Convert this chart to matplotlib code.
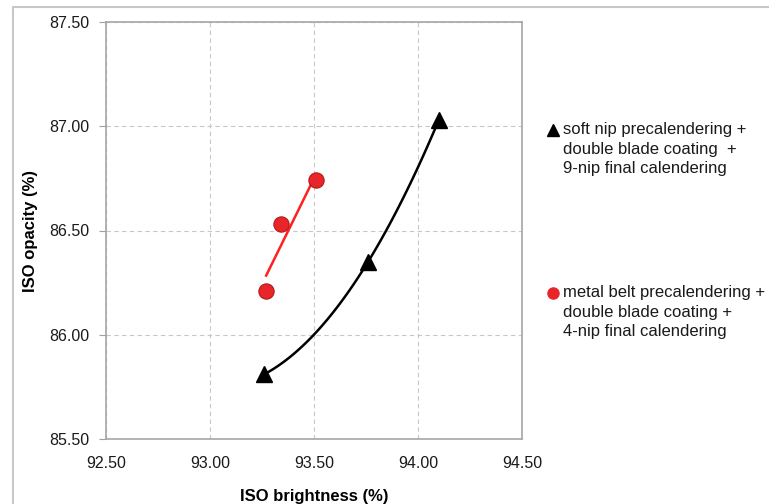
import numpy as np
import matplotlib.pyplot as plt
from matplotlib.patches import Rectangle

plt.rcParams['font.family'] = ['Liberation Sans', 'DejaVu Sans']

# Data
soft_x = [93.26, 93.76, 94.10]
soft_y = [85.81, 86.35, 87.03]
metal_x = [93.27, 93.34, 93.51]
metal_y = [86.21, 86.53, 86.74]

soft_label = "soft nip precalendering +\ndouble blade coating  +\n9-nip final calendering"
metal_label = "metal belt precalendering +\ndouble blade coating +\n4-nip final calendering"

xticks = [92.5, 93.0, 93.5, 94.0, 94.5]
yticks = [85.5, 86.0, 86.5, 87.0, 87.5]

fig = plt.figure(figsize=(7.69, 5.04), dpi=100)
W, H = 769, 504

# outer frame
fig.patches.append(Rectangle((13 / W, -0.05), 1.1, 1 - 7 / H + 0.05,
                             transform=fig.transFigure, fill=False,
                             edgecolor='#c8c8c8', lw=1.5))

ax = fig.add_axes([106 / W, 65 / H, 416 / W, 417 / H])

# trendlines
p2 = np.polyfit(soft_x, soft_y, 2)
xs = np.linspace(min(soft_x), max(soft_x), 100)
ax.plot(xs, np.polyval(p2, xs), color='black', lw=1.8, zorder=2)

p1 = np.polyfit(metal_x, metal_y, 1)
xm = np.linspace(min(metal_x), max(metal_x), 10)
ax.plot(xm, np.polyval(p1, xm), color='#ff2020', lw=1.8, zorder=2)

ax.plot(soft_x, soft_y, linestyle='none', marker='^', ms=11, color='black', zorder=3)
ax.plot(metal_x, metal_y, linestyle='none', marker='o', ms=11,
        markerfacecolor='#e8262a', markeredgecolor='#b01a1a', mew=0.8, zorder=3)

ax.set_xlim(92.5, 94.5)
ax.set_ylim(85.5, 87.5)
ax.set_xticks(xticks)
ax.set_yticks(yticks)
ax.set_xticklabels([f"{v:.2f}" for v in xticks])
ax.set_yticklabels([f"{v:.2f}" for v in yticks])
ax.tick_params(axis='both', labelsize=11.5, colors='#333333', labelcolor='#1a1a1a')
ax.tick_params(axis='x', length=0, pad=12)
ax.tick_params(axis='y', length=5, width=0.8, color='#a0a0a0', pad=7)

ax.grid(True, linestyle=(0, (4, 3)), color='#c8c8c8', lw=0.8)
for s in ax.spines.values():
    s.set_color('#a6a6a6')
    s.set_linewidth(1.2)

ax.set_xlabel("ISO brightness (%)", fontsize=12, fontweight='bold', labelpad=13)
ax.set_ylabel("ISO opacity (%)", fontsize=12, fontweight='bold', labelpad=8)

# legend entries
ax.plot([553 / W], [1 - 130 / H], marker='^', ms=8, color='black',
        transform=fig.transFigure, clip_on=False)
fig.text(563 / W, 1 - 122 / H, soft_label, fontsize=12, va='top', ha='left',
         linespacing=1.38, color='#1a1a1a')
ax.plot([553 / W], [1 - 293 / H], marker='o', ms=8, color='#e8262a',
        transform=fig.transFigure, clip_on=False)
fig.text(563 / W, 1 - 285 / H, metal_label, fontsize=12, va='top', ha='left',
         linespacing=1.38, color='#1a1a1a')

fig.savefig("out.png", dpi=100)
